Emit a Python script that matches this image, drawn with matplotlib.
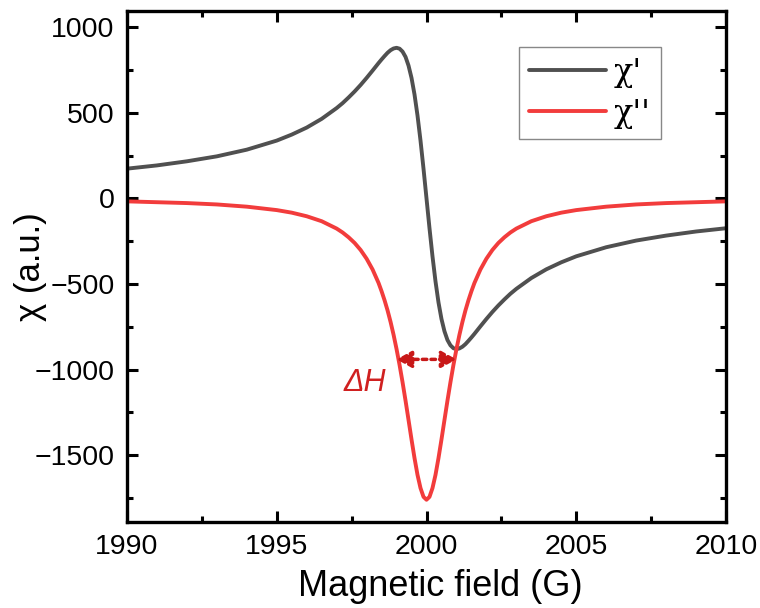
import matplotlib
matplotlib.use("Agg")
import matplotlib.pyplot as plt

# ---- data ----
field = [1990, 1991, 1992, 1993, 1994, 1995, 1995.5, 1996, 1996.5, 1997,
         1997.2, 1997.4, 1997.6, 1997.8, 1998, 1998.2, 1998.4, 1998.5, 1998.6,
         1998.7, 1998.8, 1998.9, 1999, 1999.1, 1999.2, 1999.3, 1999.4, 1999.5,
         1999.6, 1999.7, 1999.8, 1999.9, 2000, 2000.1, 2000.2, 2000.3, 2000.4,
         2000.5, 2000.6, 2000.7, 2000.8, 2000.9, 2001, 2001.1, 2001.2, 2001.3,
         2001.4, 2001.5, 2001.6, 2001.8, 2002, 2002.2, 2002.4, 2002.6, 2002.8,
         2003, 2003.5, 2004, 2004.5, 2005, 2006, 2007, 2008, 2009, 2010]

chi_real = [174, 193, 217, 246, 285, 338, 373, 414, 465, 528,
            557, 590, 625, 663, 704, 747, 791, 812, 832,
            851, 866, 876, 880, 875, 858, 827, 776, 704,
            607, 484, 338, 174, 0, -174, -338, -484, -607,
            -704, -776, -827, -858, -875, -880, -876, -866, -851,
            -832, -812, -791, -747, -704, -663, -625, -590, -557,
            -528, -465, -414, -373, -338, -285, -246, -217, -193, -174]

chi_imag = [-17, -22, -27, -35, -48, -68, -83, -104, -133, -176,
            -199, -227, -260, -301, -352, -415, -494, -542, -595,
            -654, -721, -796, -880, -972, -1073, -1181, -1294, -1408,
            -1517, -1615, -1692, -1743, -1760, -1743, -1692, -1615, -1517,
            -1408, -1294, -1181, -1073, -972, -880, -796, -721, -654,
            -595, -542, -494, -415, -352, -301, -260, -227, -199,
            -176, -133, -104, -83, -68, -48, -35, -27, -22, -17]

series_labels = ["χ'", "χ''"]
fwhm_left, fwhm_right, fwhm_level = 1999, 2001, -940
x_ticks = [1990, 1995, 2000, 2005, 2010]
y_ticks = [-1500, -1000, -500, 0, 500, 1000]

plt.rcParams['font.family'] = ['Liberation Sans', 'DejaVu Sans']

fig = plt.figure(figsize=(7.6, 6.08), dpi=100)
ax = fig.add_axes([127/760, 1-522/608, (726-127)/760, (522-11)/608])

gray = '#505050'
red = '#f23c3c'
dark_red = '#c81818'

ax.plot(field, chi_real, color=gray, lw=2.8, label=series_labels[0], solid_capstyle='round')
ax.plot(field, chi_imag, color=red, lw=2.8, label=series_labels[1], solid_capstyle='round')

ax.set_xlim(1990, 2010)
ax.set_ylim(-1890, 1095)
ax.set_xticks(x_ticks)
ax.set_yticks(y_ticks)
ax.set_xticks([1992.5, 1997.5, 2002.5, 2007.5], minor=True)
ax.set_yticks([-1750, -1250, -750, -250, 250, 750], minor=True)

for s in ax.spines.values():
    s.set_linewidth(2.4)
ax.tick_params(which='both', direction='in', top=True, right=True, width=2.2)
ax.tick_params(which='major', length=8, labelsize=20.5)
ax.tick_params(which='minor', length=4)
ax.tick_params(axis='x', which='major', pad=9)
ax.tick_params(axis='y', which='major', pad=9)
ax.tick_params(top=True, right=True, labeltop=False, labelright=False)

ax.set_xlabel('Magnetic field (G)', fontsize=26)
ax.xaxis.set_label_coords((440-127)/599, -(569-522)/511)
ax.set_ylabel('χ (a.u.)', fontsize=25)
ax.yaxis.set_label_coords((47-127)/599, 0.5)

# FWHM arrow
ax.annotate('', xy=(fwhm_left, fwhm_level), xytext=(fwhm_right, fwhm_level),
            arrowprops=dict(arrowstyle='<|-|>,head_length=0.45,head_width=0.25',
                            color=dark_red, lw=2.5, linestyle=(0, (1.3, 1.2)),
                            shrinkA=0, shrinkB=0, mutation_scale=20))
ax.text(1997.95, -1079, 'ΔH', color='#d02020', fontsize=22, style='italic',
        ha='center', va='center')

leg = ax.legend(loc='upper right', bbox_to_anchor=(661/760, 1-47/608),
                bbox_transform=fig.transFigure, borderaxespad=0,
                fancybox=False, framealpha=1, edgecolor='#888888',
                handlelength=2.4, handletextpad=0.25, borderpad=0.32,
                labelspacing=0.3, prop={'family': ['DejaVu Serif'], 'size': 23})
leg.get_frame().set_linewidth(1.0)

fig.savefig('out.png', dpi=100)
